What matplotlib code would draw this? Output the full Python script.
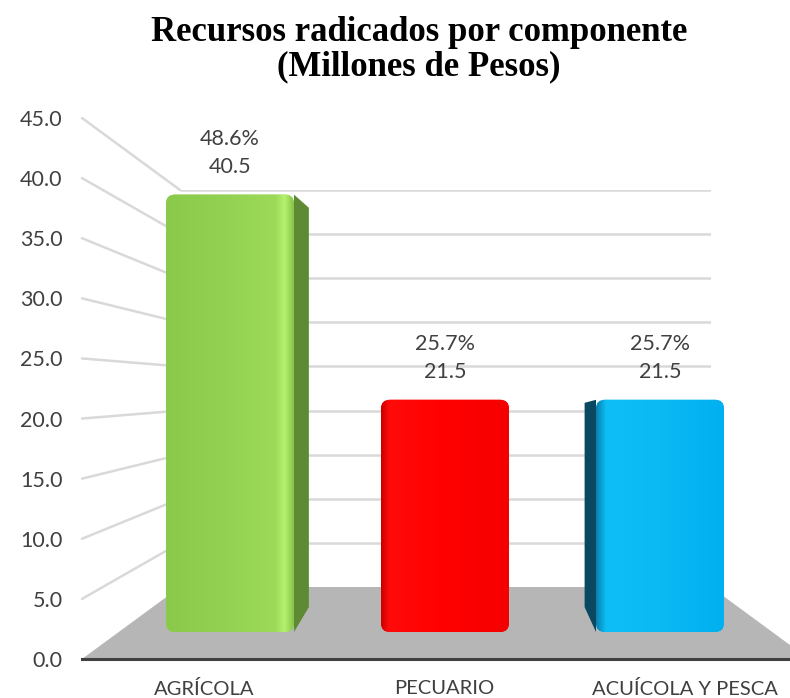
import numpy as np
import matplotlib.pyplot as plt
from matplotlib.patches import FancyBboxPatch, Polygon, ConnectionPatch
from matplotlib.colors import LinearSegmentedColormap

# data
categories = ["AGRÍCOLA", "PECUARIO", "ACUÍCOLA Y PESCA"]
values = [40.5, 21.5, 21.5]
shares = ["48.6%", "25.7%", "25.7%"]
yticks = [0, 5, 10, 15, 20, 25, 30, 35, 40, 45]

# colours: front gradient stops and side face per bar
front_stops = [
    [(0, "#8BC94B"), (0.5, "#94D253"), (0.86, "#9DDA5A"), (0.93, "#B6F26E"), (1, "#86C247")],
    [(0, "#C80000"), (0.06, "#FF0A0A"), (0.5, "#FF0000"), (1, "#F50000")],
    [(0, "#0A7FAE"), (0.08, "#0EBFF7"), (0.5, "#0BB9F3"), (1, "#00B0F0")],
]
side_colors = ["#5E8A34", "#C00000", "#0A4862"]
TEXT = "#404040"
GRID = "#D9D9D9"

W, H = 790, 698
fig = plt.figure(figsize=(W / 100, H / 100), dpi=100)
plt.rcParams["font.family"] = ["Lato", "DejaVu Sans"]


def box(left, top, right, bottom):
    # pixel box (from top-left) -> figure fraction rect
    return [left / W, 1 - bottom / H, (right - left) / W, (bottom - top) / H]


# back wall with horizontal gridlines
ax_back = fig.add_axes(box(180, 190, 711, 587), zorder=0)
ax_back.set_xlim(0, 1)
ax_back.set_ylim(0, 45)
ax_back.hlines(yticks[1:], 0, 1, color=GRID, lw=1.8)
ax_back.axis("off")

# front axis: tick labels, category labels and base line
ax_front = fig.add_axes(box(82, 118, 790, 659), zorder=3)
ax_front.set_xlim(-0.507, 2.437)
ax_front.set_ylim(0, 45)
ax_front.patch.set_visible(False)
for s in ["left", "right", "top"]:
    ax_front.spines[s].set_visible(False)
ax_front.spines["bottom"].set_color("#404040")
ax_front.spines["bottom"].set_linewidth(2.2)
ax_front.set_yticks(yticks)
ax_front.set_yticklabels([f"{v:.1f}" for v in yticks])
ax_front.set_xticks(range(len(categories)))
ax_front.set_xticklabels(categories)
ax_front.tick_params(axis="y", length=0, pad=14, labelsize=15.5, labelcolor=TEXT)
ax_front.tick_params(axis="x", length=0, pad=15, labelsize=14.5, labelcolor=TEXT)

# slanted gridlines from the front axis to the back wall
x0f = ax_front.get_xlim()[0]
for v in yticks[1:]:
    con = ConnectionPatch(xyA=(x0f, v), coordsA=ax_front.transData,
                          xyB=(0, v), coordsB=ax_back.transData,
                          color=GRID, lw=1.8, zorder=0.5)
    fig.add_artist(con)

# grey floor
fl = ax_front.transData.transform((x0f, 0))
bl = ax_back.transData.transform((0, 0))
br = ax_back.transData.transform((1, 0))
fr = br + np.array([-(fl - bl)[0], (fl - bl)[1]])
pts = fig.transFigure.inverted().transform(np.array([fl, bl, br, fr]))
fig.add_artist(Polygon(pts, closed=True, transform=fig.transFigure,
                       facecolor="#B6B6B6", edgecolor="none", zorder=1))

# bars
ax_bar = fig.add_axes(box(0, 632 - 45 * 10.8, 790, 632), zorder=2)
ax_bar.set_xlim(-230 / 215, (790 - 230) / 215)
ax_bar.set_ylim(0, 45)
ax_bar.axis("off")
bars = ax_bar.bar(range(len(values)), values, width=128 / 215)

# vanishing point (display pixels) and depth fraction for the side faces
vp = np.array([465, H - 346])
depth = 0.087
px_x = ax_bar.transData.transform((1, 0))[0] - ax_bar.transData.transform((0, 0))[0]
px_y = ax_bar.transData.transform((0, 1))[1] - ax_bar.transData.transform((0, 0))[1]
radius = 9 / px_x
to_data = ax_bar.transData.inverted()

for i, b in enumerate(bars):
    x, w, h = b.get_x(), b.get_width(), b.get_height()
    b.set_visible(False)
    left_d = ax_bar.transData.transform((x, 0))
    right_d = ax_bar.transData.transform((x + w, h))
    if vp[0] > right_d[0] or vp[0] < left_d[0]:
        ex = right_d[0] if vp[0] > right_d[0] else left_d[0]
        ft = np.array([ex, right_d[1]])
        fb = np.array([ex, left_d[1]])
        bt = ft + depth * (vp - ft)
        bb = fb + depth * (vp - fb)
        # top of the side never pokes above the front face
        bt[1] = min(bt[1], ft[1] - 3)
        side = Polygon(to_data.transform(np.array([ft, bt, bb, fb])), closed=True,
                       facecolor=side_colors[i], edgecolor="none", zorder=1)
        ax_bar.add_patch(side)
    face = FancyBboxPatch((x, 0), w, h,
                          boxstyle=f"round,pad=0,rounding_size={radius}",
                          mutation_aspect=px_x / px_y,
                          facecolor=front_stops[i][2][1], edgecolor="none", zorder=2)
    ax_bar.add_patch(face)
    cmap = LinearSegmentedColormap.from_list(f"g{i}", front_stops[i])
    grad = np.linspace(0, 1, 256).reshape(1, -1)
    im = ax_bar.imshow(grad, cmap=cmap, extent=(x, x + w, 0, h), aspect="auto",
                       zorder=3, interpolation="bilinear")
    im.set_clip_path(face)
    cx = x + w / 2
    ax_bar.annotate(shares[i], (cx, h), xytext=(0, 56), textcoords="offset pixels",
                    ha="center", va="center", fontsize=15.5, color=TEXT,
                    annotation_clip=False)
    ax_bar.annotate(f"{values[i]:.1f}", (cx, h), xytext=(0, 28), textcoords="offset pixels",
                    ha="center", va="center", fontsize=15.5, color=TEXT,
                    annotation_clip=False)

ax_bar.set_xlim(-230 / 215, (790 - 230) / 215)
ax_bar.set_ylim(0, 45)

fig.text(419 / W, 1 - 16 / H, "Recursos radicados por componente\n(Millones de Pesos)",
         ha="center", va="top", fontsize=25, fontweight="bold",
         family=["Liberation Serif", "DejaVu Serif"], linespacing=1.05, color="black")

fig.savefig("out.png", dpi=100)
